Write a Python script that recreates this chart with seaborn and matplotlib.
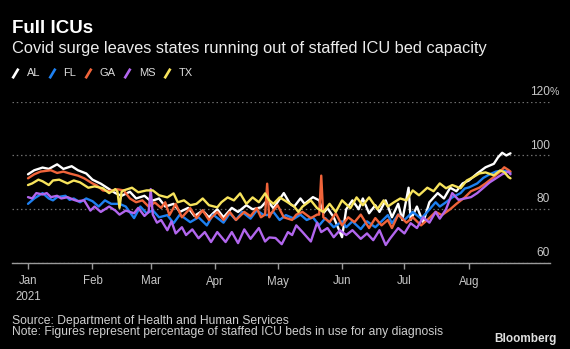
import matplotlib
matplotlib.use("Agg")
import numpy as np
import pandas as pd
import matplotlib.pyplot as plt
import seaborn as sns
from matplotlib.lines import Line2D
from matplotlib import transforms

START = pd.Timestamp("2021-01-01")

states = ["AL", "FL", "GA", "MS", "TX"]
state_colors = ["#ffffff", "#1e80f0", "#f0643a", "#b266ee", "#f7e35c"]

# days since Jan 1 2021, values = % of staffed ICU beds in use
al_day = [0, 3, 7, 10, 14, 17, 21, 24, 28, 31, 35, 38, 42, 45, 49, 52, 56, 59, 63, 66,
          70, 73, 77, 80, 84, 87, 91, 94, 98, 101, 105, 108, 112, 115, 118, 123, 126, 128, 131, 133,
          137, 140, 142, 144, 147, 151, 153, 156, 159, 161, 164, 167, 169, 172, 175, 178, 180, 183, 184, 187,
          190, 193, 197, 200, 203, 206, 209, 212, 216, 220, 224, 226, 228, 230, 232]
al_val = [93, 94.5, 95.5, 95, 96.7, 95, 96, 94.5, 93.3, 91, 89.5, 88, 86, 85, 86.5, 84, 85, 83, 84, 81,
          82, 79, 80.5, 77.5, 79.5, 77, 80, 77, 80.5, 79, 81.5, 80, 80.7, 83.3, 80.4, 86, 82, 81, 84, 82,
          84.5, 83.3, 78.5, 80.4, 77, 69.6, 80, 83.3, 80, 84, 78.5, 81.5, 79, 83.3, 77, 82, 76, 88, 76, 81,
          75, 82.6, 86, 84, 88, 86.7, 89.6, 90.7, 93.3, 95.6, 96.9, 99.3, 101, 100, 100.8]

fl_day = [0, 3, 5, 7, 10, 12, 14, 18, 20, 22, 25, 28, 31, 34, 37, 40, 44, 47, 51, 54,
          57, 60, 63, 67, 70, 73, 78, 82, 86, 89, 94, 97, 100, 103, 107, 110, 113, 115, 118, 121,
          124, 128, 131, 134, 137, 140, 143, 147, 151, 153, 156, 160, 163, 167, 170, 173, 175, 178, 181, 185,
          189, 192, 196, 198, 201, 204, 208, 210, 212, 216, 219, 222, 225, 228, 231, 232]
fl_val = [82, 84, 85, 86, 84, 83.3, 84.5, 85, 83.5, 84, 82.6, 84, 83, 81, 83.3, 82, 82, 81, 76.7, 81,
          78.5, 79.6, 77, 77.8, 74.8, 78, 75.2, 77, 74, 78, 75, 78.5, 76, 79, 76.5, 79.6, 78, 77.8, 79, 76,
          77.8, 76.5, 78, 76, 77, 74, 76.7, 73.3, 75.5, 73.3, 75.5, 72.6, 75.5, 73.3, 75.5, 77.8, 74.8, 78, 76, 79,
          76.5, 79, 82.6, 81, 82.6, 84.4, 86, 87.7, 88.1, 89.6, 91.7, 93, 94, 94.4, 94, 93.5]

ga_day = [0, 3, 6, 11, 14, 17, 20, 24, 27, 31, 33, 36, 39, 43, 46, 49, 52, 55, 58, 61,
          64, 66, 68, 71, 74, 78, 81, 84, 87, 91, 94, 97, 100, 104, 107, 110, 112, 114, 115, 116,
          117, 120, 123, 127, 129, 132, 136, 139, 140, 141, 142, 145, 148, 151, 154, 157, 160, 164, 167, 170,
          173, 175, 178, 182, 185, 189, 192, 196, 199, 203, 206, 210, 213, 217, 220, 224, 227, 229, 231, 232]
ga_val = [91.5, 93, 94, 94.5, 93.5, 94, 93.3, 92.5, 91.5, 89.6, 88.9, 87, 86.7, 87.4, 87, 84, 82.6, 83.3, 81, 82.5,
          80.5, 82.6, 77.8, 82, 77, 80.4, 76.7, 79.6, 76, 79, 76, 79, 76, 79, 77.4, 80.4, 77, 78, 89.5, 77,
          78.5, 81.5, 77, 76, 78, 79, 76.7, 78, 78, 92.5, 77, 75.2, 78.5, 74, 77, 75.2, 78, 73, 76.7, 74,
          76, 73, 78, 75, 77, 74, 76, 79, 77.8, 80, 82, 84.4, 86.7, 88, 89.6, 92, 94, 95.6, 94.6, 94]

ms_day = [0, 2, 4, 7, 9, 11, 14, 16, 19, 22, 24, 27, 30, 32, 35, 39, 42, 44, 47, 51,
          53, 56, 58, 59, 60, 62, 64, 67, 69, 71, 74, 76, 79, 82, 85, 88, 91, 95, 98, 101,
          104, 107, 111, 114, 116, 119, 122, 125, 127, 129, 132, 136, 139, 141, 144, 147, 150, 153, 156, 160,
          163, 166, 169, 172, 174, 178, 181, 184, 187, 190, 193, 196, 198, 201, 204, 207, 210, 213, 216, 219,
          222, 225, 228, 231, 232]
ms_val = [84.5, 84, 86, 85.5, 86, 84.5, 85, 84, 84.5, 83.5, 83, 83.3, 79.5, 81, 79, 81, 79.5, 78, 79.5, 78.5,
          80.5, 77.5, 79, 87.5, 78, 75, 76, 72.2, 75.5, 71, 73.3, 70.4, 72.5, 69.2, 71.5, 67.8, 71.5, 67.8, 71.5, 67.4,
          72.5, 69, 73, 68, 69.5, 69.3, 67, 71.5, 70.4, 74, 71.5, 68, 75, 71.5, 73, 69.6, 72.2, 70.4, 72.2, 69,
          71, 68.5, 72.2, 66.7, 69, 73, 71, 74.8, 73, 77, 75, 79, 76.5, 80, 86, 83.5, 84, 84.5, 86, 88,
          90, 91.5, 93, 94, 93]

tx_day = [0, 2, 5, 7, 10, 12, 15, 19, 22, 25, 27, 29, 32, 36, 39, 42, 43, 44, 45, 46,
          50, 53, 57, 60, 63, 67, 70, 72, 75, 78, 81, 84, 87, 91, 93, 96, 99, 102, 105, 108,
          111, 114, 116, 118, 121, 124, 128, 130, 132, 136, 139, 142, 145, 148, 151, 155, 158, 161, 164, 168,
          171, 173, 176, 179, 182, 185, 188, 192, 195, 198, 201, 204, 208, 211, 214, 217, 220, 224, 227, 229,
          231, 232]
tx_val = [89, 89.6, 91, 90.4, 89, 90.7, 91, 89.6, 90.7, 90, 89, 88, 88.5, 87.8, 86, 87.5, 86.5, 80.5, 86.5, 87,
          88, 86.3, 87, 87, 85.2, 84.4, 85.9, 82.6, 83.3, 81.5, 82, 84, 81.5, 80.7, 82.6, 84.4, 83.3, 85.9, 82, 84.4,
          82.6, 85.9, 83.3, 82, 84.4, 83, 81, 79, 81, 83.3, 80.4, 79, 82, 79, 83.3, 80.4, 84.4, 81.5, 84.4, 80,
          83.3, 81, 82.6, 84, 83.3, 87, 85.2, 88, 86.7, 89.6, 87.8, 89, 87.8, 90.7, 91.9, 93.3, 93.7, 92.6, 94.4, 93.8,
          92, 91.5]

month_labels = ["Jan\n2021", "Feb", "Mar", "Apr", "May", "Jun", "Jul", "Aug"]
y_ticks = [60, 80, 100, 120]

series = {"AL": (al_day, al_val), "FL": (fl_day, fl_val), "GA": (ga_day, ga_val),
          "MS": (ms_day, ms_val), "TX": (tx_day, tx_val)}
frames = []
for st in states:
    d, v = series[st]
    frames.append(pd.DataFrame({"date": START + pd.to_timedelta(d, unit="D"),
                                "value": v, "state": st}))
df = pd.concat(frames, ignore_index=True)

sns.set_theme(style="dark", rc={
    "figure.facecolor": "black", "axes.facecolor": "black",
    "savefig.facecolor": "black", "axes.edgecolor": "#9a9a9a",
    "text.color": "white", "xtick.color": "#bdbdbd", "ytick.color": "#bdbdbd",
})
plt.rcParams["font.family"] = ["Liberation Sans", "DejaVu Sans"]

W, H = 570, 349
fig = plt.figure(figsize=(W / 100, H / 100), dpi=100)
ax = fig.add_axes([12 / W, 1 - 263 / H, (550 - 12) / W, (263 - 101.7) / H])

palette = dict(zip(states, state_colors))
sns.lineplot(data=df, x="date", y="value", hue="state", hue_order=states,
             palette=palette, estimator=None, linewidth=1.7, legend=False, ax=ax)

ax.set_ylim(60, 120)
ax.set_xlim(START - pd.Timedelta(days=7.7), START + pd.Timedelta(days=251))
ax.set_xlabel("")
ax.set_ylabel("")

for s in ["left", "right", "top"]:
    ax.spines[s].set_visible(False)
ax.spines["bottom"].set_color("#9a9a9a")
ax.spines["bottom"].set_linewidth(1.0)

month_ticks = pd.date_range("2021-01-01", periods=len(month_labels), freq="MS")
ax.set_xticks(month_ticks)
ax.set_xticklabels(month_labels, fontsize=8.3, color="#c8c8c8", linespacing=1.4)
ax.tick_params(axis="x", direction="out", length=4, width=1, color="#9a9a9a", pad=5,
               bottom=True)
for lbl in ax.get_xticklabels():
    lbl.set_ha("center")

ax.set_yticks(y_ticks)
ax.tick_params(axis="y", length=0, labelleft=False, labelright=False)
ax.yaxis.grid(True, color="#6e6e6e", linestyle=(0, (1.2, 2.2)), linewidth=0.9)
ax.xaxis.grid(False)

trans = transforms.offset_copy(
    transforms.blended_transform_factory(ax.transAxes, ax.transData), fig=fig, y=5, units="points")
for v in y_ticks:
    ax.text(1.0, v, str(v), transform=trans, ha="right", va="baseline",
            fontsize=8.6, color="#c8c8c8")
ax.text(1.0, y_ticks[-1], "%", transform=trans, ha="left", va="baseline",
        fontsize=7.6, color="#c8c8c8")

fig.text(12 / W, 1 - 33.3 / H, "Full ICUs", fontsize=13.5, fontweight="bold",
         color="white", ha="left", va="baseline")
fig.text(12 / W, 1 - 52.7 / H, "Covid surge leaves states running out of staffed ICU bed capacity",
         fontsize=11.8, color="#ececec", ha="left", va="baseline")

handles = [Line2D([0], [0], color=c, linestyle="none",
                  marker=[(-0.6, -1), (0.6, 1)], markersize=7,
                  markeredgewidth=1.9, markeredgecolor=c)
           for c in state_colors]
leg = fig.legend(handles, states, loc="center left", bbox_to_anchor=(9.5 / W, 1 - 73.5 / H),
                 ncol=5, frameon=False, fontsize=8, handlelength=1.0,
                 handletextpad=0.55, columnspacing=0.55, borderpad=0, borderaxespad=0)
for t in leg.get_texts():
    t.set_color("#dcdcdc")

fig.text(12 / W, 1 - 324 / H, "Source: Department of Health and Human Services",
         fontsize=8.7, color="#cfcfcf", ha="left", va="baseline")
fig.text(12 / W, 1 - 335.5 / H,
         "Note: Figures represent percentage of staffed ICU beds in use for any diagnosis",
         fontsize=8.7, color="#cfcfcf", ha="left", va="baseline")
fig.text(557 / W, 1 - 341.7 / H, "Bloomberg", fontsize=8.5, fontweight="bold",
         color="#e0e0e0", ha="right", va="baseline")

fig.savefig("out.png", dpi=100, facecolor="black")
